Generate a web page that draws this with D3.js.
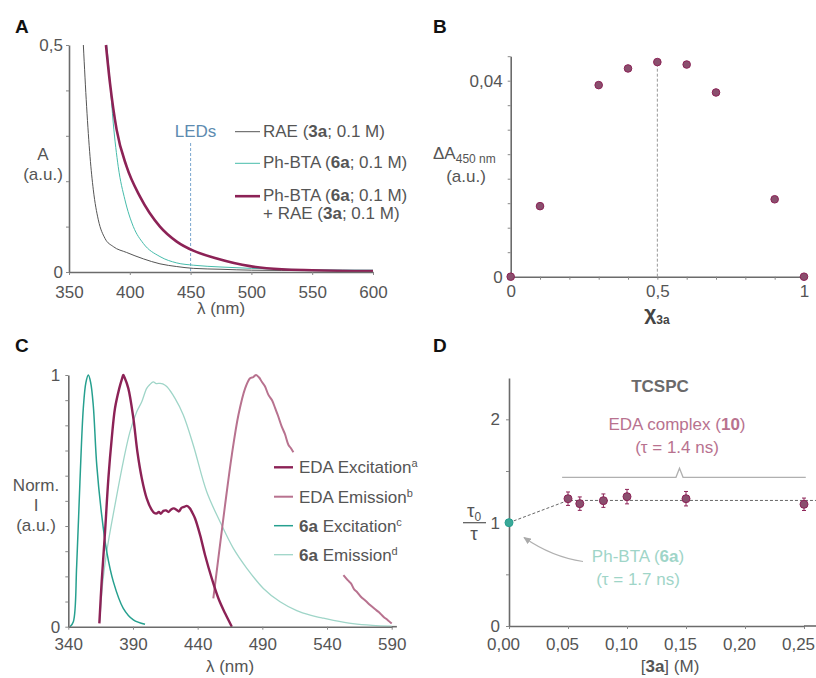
<!DOCTYPE html>
<html>
<head>
<meta charset="utf-8">
<script src="https://cdn.jsdelivr.net/npm/d3@7"></script>
<style>
  body { margin: 0; background: #fff; }
  text { font-family: "Liberation Sans", Arial, sans-serif; fill: #555; }
</style>
</head>
<body>
<svg id="chart" width="816" height="678"></svg>
<script>
/* DATA */
// Panel A: absorbance [nm, A]
const raeSpec = [[361.8,0.5],[364.5,0.364],[367.3,0.254],[370,0.181],[374.1,0.115],[379.6,0.074],[386.4,0.056],[397.4,0.043],[411.1,0.029],[424.8,0.018],[438.6,0.012],[452.2,0.008],[475,0.006],[500,0.004],[550,0.003],[600,0.002]];
const btaSpec = [[381,0.5],[383.7,0.42],[386.4,0.328],[390.5,0.232],[396,0.159],[402.9,0.1],[411.1,0.063],[424.8,0.034],[438.6,0.02],[452.2,0.015],[475,0.011],[500,0.008],[550,0.005],[600,0.004]];
const mixSpec = [[380.4,0.5],[383.7,0.416],[389.2,0.313],[397.4,0.232],[408.4,0.166],[424.8,0.1],[438.6,0.067],[452.2,0.047],[471.5,0.03],[498.8,0.013],[525,0.006],[550,0.004],[600,0.002]];

// Panel B: Job plot
const jobX = [0, 0.1, 0.3, 0.4, 0.5, 0.6, 0.7, 0.9, 1];
const jobY = [0, 0.0144, 0.0391, 0.0425, 0.0438, 0.0433, 0.0376, 0.0158, 0];

// Panel C: normalised spectra [nm, I]
const edaExc = [[364,0.013],[365.8,0.179],[368.4,0.377],[371,0.59],[373.6,0.749],[376.1,0.868],[379.4,0.947],[381.5,0.985],[382.5,1.0],[383.5,0.99],[386.4,0.947],[390.3,0.828],[393.4,0.695],[396.8,0.59],[400.6,0.51],[404.5,0.464],[406.5,0.452],[408.4,0.45],[410,0.456],[411.5,0.449],[413.5,0.46],[415.5,0.462],[417.5,0.456],[419.5,0.466],[421.5,0.47],[423.8,0.464],[425.5,0.458],[427.5,0.472],[429.5,0.476],[431.6,0.48],[434,0.47],[436,0.452],[438,0.43],[441.9,0.364],[445.7,0.285],[450.9,0.192],[456,0.113],[461.2,0.053],[466.4,0.0]];
const edaEm1 = [[452.1,0.113],[456,0.272],[461.2,0.484],[466.4,0.682],[471.5,0.841],[476.7,0.947],[480.5,0.987],[483,0.992],[485.2,1.0],[487.5,0.99],[489.6,0.973],[492,0.955],[494.7,0.921],[497.5,0.9],[499.9,0.868],[502,0.84],[505,0.795],[507.5,0.765],[510.2,0.722],[512,0.71],[514,0.693]];
const edaEm2 = [[552.7,0.205],[556,0.185],[558.5,0.172],[561,0.148],[563,0.139],[566,0.12],[570,0.102],[573.3,0.086],[577,0.07],[580,0.058],[583.6,0.04],[587,0.026],[590,0.013]];
const btaExc = [[341.3,0],[343.9,0.02],[346.5,0.245],[349,0.576],[351.6,0.868],[353.6,0.97],[355.5,1.0],[357.3,0.97],[359.3,0.88],[362,0.642],[365.8,0.444],[369.7,0.298],[374.8,0.179],[382.5,0.073],[390.3,0.027],[399.3,0.01]];
const btaEm = [[364.3,0.02],[366.5,0.17],[369.7,0.298],[376.1,0.484],[382.5,0.656],[387.7,0.775],[392.9,0.854],[396.8,0.894],[400.6,0.947],[403,0.962],[405.7,0.973],[408,0.966],[410.9,0.967],[413,0.965],[416.1,0.954],[422.5,0.907],[428.9,0.841],[436.7,0.72],[447,0.536],[457.3,0.417],[467.6,0.311],[478,0.232],[490.8,0.152],[503.7,0.099],[516.6,0.064],[527,0.046],[536,0.035],[545,0.025],[560,0.012],[575,0.005],[590,0.002]];

// Panel D: TCSPC
const conc = [0.05, 0.06, 0.08, 0.10, 0.15, 0.25];
const tauRatio = [1.232, 1.184, 1.213, 1.252, 1.232, 1.178];
const tauErr = [0.065, 0.065, 0.065, 0.07, 0.07, 0.06];
const fitD = [[0, 1], [0.05, 1.215], [0.27, 1.215]];

/* COLOURS */
const cDark = "#8c2256", cPink = "#b8728f", cTeal = "#26a08f", cTealL = "#9fd5c8", cTealA = "#46bcab", cGray = "#555";
const axisCol = "#6b6b6b";
const fmt = d3.formatLocale({decimal: ",", thousands: ".", grouping: [3], currency: ["", ""]}).format;

const svg = d3.select("#chart");

function styleAxis(g) {
  g.attr("font-family", null).attr("font-size", null);
  g.select(".domain").attr("stroke", axisCol).attr("stroke-width", 1.6);
  g.selectAll(".tick line").attr("stroke", "#888").attr("stroke-width", 1);
  g.selectAll(".tick text").attr("fill", "#555").style("font-size", "17px");
}

// text with bold / sub / sup parts: parts = [[str, bold, "sub"|"sup"]]
function rich(g, x, y, parts, anchor, size, color) {
  const t = g.append("text").attr("x", x).attr("y", y)
    .attr("text-anchor", anchor || "start").style("font-size", (size || 17) + "px");
  if (color) t.style("fill", color);
  let shift = 0;
  parts.forEach(p => {
    const s = t.append("tspan").text(p[0]);
    if (p[1]) s.attr("font-weight", "bold");
    let want = 0;
    if (p[2] === "sup") { want = -6; s.style("font-size", "11px"); }
    if (p[2] === "sub") { want = 4; s.style("font-size", "12px"); }
    if (want !== shift) { s.attr("dy", want - shift); shift = want; }
  });
  return t;
}

function panelLetter(x, y, s) {
  svg.append("text").attr("x", x).attr("y", y).text(s)
    .style("font-size", "19px").attr("font-weight", "bold").style("fill", "#111");
}

/* ---------- PANEL A ---------- */
const xA = d3.scaleLinear([350, 600], [69, 373]);
const yA = d3.scaleLinear([0, 0.5], [272, 45]);
const lineA = d3.line().x(d => xA(d[0])).y(d => yA(d[1])).curve(d3.curveMonotoneX);

const gA = svg.append("g");
gA.append("line").attr("x1", xA(450)).attr("x2", xA(450)).attr("y1", 143).attr("y2", yA(0))
  .attr("stroke", "#7aa6cf").attr("stroke-width", 1).attr("stroke-dasharray", "3,2");
gA.append("text").attr("x", xA(450) + 5).attr("y", 137).attr("text-anchor", "middle")
  .style("font-size", "17px").style("fill", "#5d8bb0").text("LEDs");

gA.append("path").datum(raeSpec).attr("d", lineA).attr("fill", "none").attr("stroke", cGray).attr("stroke-width", 1);
gA.append("path").datum(btaSpec).attr("d", lineA).attr("fill", "none").attr("stroke", cTealA).attr("stroke-width", 1);
gA.append("path").datum(mixSpec).attr("d", lineA).attr("fill", "none").attr("stroke", cDark).attr("stroke-width", 2.6);

gA.append("g").attr("transform", `translate(0,${yA(0)})`)
  .call(d3.axisBottom(xA).tickValues(d3.range(350, 601, 50)).tickSize(3).tickSizeOuter(0).tickPadding(11))
  .call(styleAxis);
gA.append("g").attr("transform", `translate(${xA(350)},0)`)
  .call(d3.axisLeft(yA).tickValues([0, 0.1, 0.2, 0.3, 0.4, 0.5]).tickSize(3).tickSizeOuter(0).tickPadding(3)
    .tickFormat(d => d === 0 ? "0" : (Math.abs(d - 0.5) < 1e-9 ? fmt(".1f")(d) : "")))
  .call(styleAxis);

gA.append("text").attr("x", xA(475)).attr("y", 314).attr("text-anchor", "middle").style("font-size", "17px").text("λ (nm)");
gA.append("text").attr("x", 43).attr("y", 160).attr("text-anchor", "middle").style("font-size", "17px").text("A");
gA.append("text").attr("x", 43).attr("y", 180).attr("text-anchor", "middle").style("font-size", "17px").text("(a.u.)");

// legend A
const legA = [
  {c: cGray, w: 1, y: 136.7, parts: [["RAE ("], ["3a", true], ["; 0.1 M)"]]},
  {c: cTealA, w: 1, y: 168.3, parts: [["Ph-BTA ("], ["6a", true], ["; 0.1 M)"]]},
  {c: cDark, w: 2.6, y: 201.2, parts: [["Ph-BTA ("], ["6a", true], ["; 0.1 M)"]]}
];
legA.forEach(l => {
  gA.append("line").attr("x1", 235).attr("x2", 260).attr("y1", l.y - 5).attr("y2", l.y - 5)
    .attr("stroke", l.c).attr("stroke-width", l.w);
  rich(gA, 263, l.y, l.parts);
});
rich(gA, 263, 218.8, [["+ RAE ("], ["3a", true], ["; 0.1 M)"]]);

/* ---------- PANEL B ---------- */
const xB = d3.scaleLinear([0, 1], [510.7, 804]);
const yB = d3.scaleLinear([0, 0.045], [276.7, 56.2]);
const gB = svg.append("g");

gB.append("g").attr("transform", `translate(0,${yB(0)})`)
  .call(d3.axisBottom(xB).tickValues(d3.range(0, 1.001, 0.1)).tickSize(3).tickSizeOuter(0).tickPadding(5)
    .tickFormat(d => d < 1e-9 ? "0" : Math.abs(d - 0.5) < 1e-9 ? "0,5" : Math.abs(d - 1) < 1e-9 ? "1" : ""))
  .call(styleAxis);
gB.append("g").attr("transform", `translate(${xB(0)},0)`)
  .call(d3.axisLeft(yB).tickValues(d3.range(0, 0.0451, 0.005)).tickSize(3).tickSizeOuter(0).tickPadding(5)
    .tickFormat(d => d < 1e-9 ? "0" : Math.abs(d - 0.04) < 1e-9 ? fmt(".2f")(d) : ""))
  .call(styleAxis);

gB.append("line").attr("x1", xB(0.5)).attr("x2", xB(0.5)).attr("y1", yB(0)).attr("y2", yB(jobY[4]))
  .attr("stroke", "#999").attr("stroke-width", 1).attr("stroke-dasharray", "3,2");

gB.selectAll("circle").data(jobX).join("circle")
  .attr("cx", d => xB(d)).attr("cy", (d, i) => yB(jobY[i])).attr("r", 3.8)
  .attr("fill", "#8a4f6e").attr("stroke", cDark).attr("stroke-width", 1);

rich(gB, 433, 159, [["ΔA"], ["450 nm", false, "sub"]]);
gB.append("text").attr("x", 466).attr("y", 182).attr("text-anchor", "middle").style("font-size", "17px").text("(a.u.)");
rich(gB, 657, 320, [["χ", true], ["3a", true, "sub"]], "middle", 21, "#444");

/* ---------- PANEL C ---------- */
const xC = d3.scaleLinear([340, 590], [68.3, 391.7]);
const yC = d3.scaleLinear([0, 1], [626.7, 375]);
const lineC = d3.line().x(d => xC(d[0])).y(d => yC(d[1])).curve(d3.curveCatmullRom);
const gC = svg.append("g");

gC.append("path").datum(btaEm).attr("d", lineC).attr("fill", "none").attr("stroke", cTealL).attr("stroke-width", 1.3);
gC.append("path").datum(btaExc).attr("d", lineC).attr("fill", "none").attr("stroke", cTeal).attr("stroke-width", 1.5);
gC.append("path").datum(edaEm1).attr("d", lineC).attr("fill", "none").attr("stroke", cPink).attr("stroke-width", 2);
gC.append("path").datum(edaEm2).attr("d", lineC).attr("fill", "none").attr("stroke", cPink).attr("stroke-width", 2);
gC.append("path").datum(edaExc).attr("d", lineC).attr("fill", "none").attr("stroke", cDark).attr("stroke-width", 2.4);

gC.append("g").attr("transform", `translate(0,${yC(0)})`)
  .call(d3.axisBottom(xC).tickValues(d3.range(340, 591, 50)).tickSize(3).tickSizeOuter(0).tickPadding(8))
  .call(styleAxis);
gC.append("line").attr("x1", xC(590)).attr("x2", xC(594)).attr("y1", yC(0)).attr("y2", yC(0))
  .attr("stroke", axisCol).attr("stroke-width", 1.6);
gC.append("g").attr("transform", `translate(${xC(340)},0)`)
  .call(d3.axisLeft(yC).tickValues(d3.range(0, 1.001, 0.1)).tickSize(3).tickSizeOuter(0).tickPadding(5)
    .tickFormat(d => d < 1e-9 ? "0" : Math.abs(d - 1) < 1e-9 ? "1" : ""))
  .call(styleAxis);

gC.append("text").attr("x", xC(465)).attr("y", 672).attr("text-anchor", "middle").style("font-size", "17px").text("λ (nm)");
gC.append("text").attr("x", 36).attr("y", 491).attr("text-anchor", "middle").style("font-size", "17px").text("Norm.");
gC.append("text").attr("x", 36).attr("y", 511).attr("text-anchor", "middle").style("font-size", "17px").text("I");
gC.append("text").attr("x", 36).attr("y", 531).attr("text-anchor", "middle").style("font-size", "17px").text("(a.u.)");

const legC = [
  {c: cDark, w: 2.4, y: 473.3, parts: [["EDA Excitation"], ["a", false, "sup"]]},
  {c: cPink, w: 2, y: 502.7, parts: [["EDA Emission"], ["b", false, "sup"]]},
  {c: cTeal, w: 1.5, y: 531.7, parts: [["6a", true], [" Excitation"], ["c", false, "sup"]]},
  {c: cTealL, w: 1.3, y: 560.7, parts: [["6a", true], [" Emission"], ["d", false, "sup"]]}
];
legC.forEach(l => {
  gC.append("line").attr("x1", 274).attr("x2", 293).attr("y1", l.y - 6).attr("y2", l.y - 6)
    .attr("stroke", l.c).attr("stroke-width", l.w);
  rich(gC, 299, l.y, l.parts);
});

/* ---------- PANEL D ---------- */
const xD = d3.scaleLinear([0, 0.25], [509, 804]);
const yD = d3.scaleLinear([0, 2.4], [626, 378]);
const gD = svg.append("g");

gD.append("g").attr("transform", `translate(0,${yD(0)})`)
  .call(d3.axisBottom(xD).tickValues(d3.range(0, 0.2501, 0.05)).tickSize(3).tickSizeOuter(0).tickPadding(9)
    .tickFormat(fmt(".2f")))
  .call(styleAxis)
  .call(g => g.selectAll(".tick text").attr("dx", -6));
gD.append("line").attr("x1", xD(0.25)).attr("x2", 816).attr("y1", yD(0)).attr("y2", yD(0))
  .attr("stroke", axisCol).attr("stroke-width", 1.6);
gD.append("g").attr("transform", `translate(${xD(0)},0)`)
  .call(d3.axisLeft(yD).tickValues([0, 0.5, 1, 1.5, 2]).tickSize(3).tickSizeOuter(0).tickPadding(6)
    .tickFormat(d => Number.isInteger(d) ? d : ""))
  .call(styleAxis);

// fit line
gD.append("path").datum(fitD)
  .attr("d", d3.line().x(d => xD(d[0])).y(d => yD(d[1])))
  .attr("fill", "none").attr("stroke", "#666").attr("stroke-width", 1).attr("stroke-dasharray", "3,2");

// bracket
const yBr = 477.3;
gD.append("path")
  .attr("d", `M${xD(0.045)},${yBr}H${xD(0.1415)}L${xD(0.1445)},${yBr - 9}L${xD(0.1475)},${yBr}H${xD(0.2515)}`)
  .attr("fill", "none").attr("stroke", "#b0b0b0").attr("stroke-width", 1.3);

// error bars + points
const eb = gD.selectAll("g.eb").data(conc).join("g").attr("class", "eb");
eb.append("line").attr("x1", d => xD(d)).attr("x2", d => xD(d))
  .attr("y1", (d, i) => yD(tauRatio[i] - tauErr[i])).attr("y2", (d, i) => yD(tauRatio[i] + tauErr[i]))
  .attr("stroke", cDark).attr("stroke-width", 1);
[-1, 1].forEach(s => {
  eb.append("line").attr("x1", d => xD(d) - 2).attr("x2", d => xD(d) + 2)
    .attr("y1", (d, i) => yD(tauRatio[i] + s * tauErr[i])).attr("y2", (d, i) => yD(tauRatio[i] + s * tauErr[i]))
    .attr("stroke", cDark).attr("stroke-width", 1);
});
eb.append("circle").attr("cx", d => xD(d)).attr("cy", (d, i) => yD(tauRatio[i])).attr("r", 4)
  .attr("fill", "#8a4f6e").attr("stroke", cDark).attr("stroke-width", 1);
gD.append("circle").attr("cx", xD(0)).attr("cy", yD(1)).attr("r", 4)
  .attr("fill", "#3aa898").attr("stroke", cTeal).attr("stroke-width", 1);

// arrow
svg.append("defs").append("marker").attr("id", "arr").attr("viewBox", "0 0 10 10")
  .attr("refX", 8).attr("refY", 5).attr("markerWidth", 7).attr("markerHeight", 7).attr("orient", "auto-start-reverse")
  .append("path").attr("d", "M0,1L9,5L0,9z").attr("fill", "#aaa");
gD.append("path").attr("d", "M583,561.5Q552,557 524,537.5")
  .attr("fill", "none").attr("stroke", "#b0b0b0").attr("stroke-width", 1.2).attr("marker-end", "url(#arr)");

gD.append("text").attr("x", 660).attr("y", 392).attr("text-anchor", "middle")
  .style("font-size", "17px").attr("font-weight", "bold").style("fill", "#6a6a6a").text("TCSPC");
rich(gD, 677, 430, [["EDA complex ("], ["10", true], [")"]], "middle", 17, cPink);
rich(gD, 677, 453, [["(τ = 1.4 ns)"]], "middle", 17, cPink);
rich(gD, 638, 561.5, [["Ph-BTA ("], ["6a", true], [")"]], "middle", 17, cTealL);
rich(gD, 638, 585, [["(τ = 1.7 ns)"]], "middle", 17, cTealL);

rich(gD, 670, 672, [["["], ["3a", true], ["] (M)"]], "middle", 17);
// τ0 / τ
rich(gD, 467, 517, [["τ"], ["0", false, "sub"]], "start", 19);
gD.append("line").attr("x1", 463).attr("x2", 486).attr("y1", 522.7).attr("y2", 522.7).attr("stroke", "#555").attr("stroke-width", 1.2);
rich(gD, 474, 540, [["τ"]], "middle", 19);

/* panel letters */
panelLetter(15, 33, "A");
panelLetter(433, 33, "B");
panelLetter(15, 352, "C");
panelLetter(433, 352, "D");
</script>
</body>
</html>
